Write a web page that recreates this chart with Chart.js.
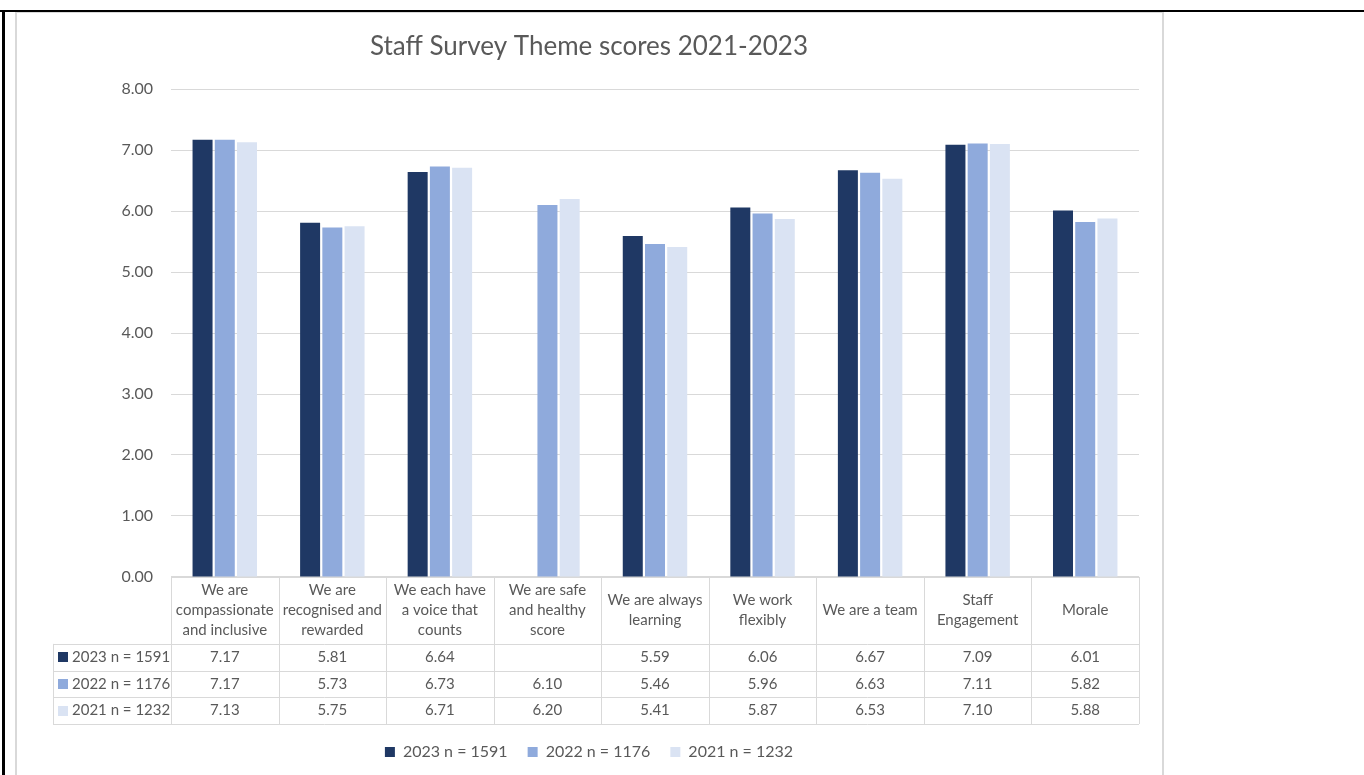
<!DOCTYPE html>
<html>
<head>
<meta charset="utf-8">
<title>Staff Survey Theme scores 2021-2023</title>
<script src="https://cdn.jsdelivr.net/npm/chart.js@4.4.0/dist/chart.umd.min.js"></script>
<style>
    html, body { margin: 0; padding: 0; background: #fff; }
    body { width: 1364px; height: 775px; position: relative; overflow: hidden; }
    .rule-top { position: absolute; left: 0; top: 10px; width: 1364px; height: 2px; background: #000; }
    .rule-left { position: absolute; left: 2px; top: 10px; width: 3px; height: 765px; background: #000; }
    .chart-box { position: absolute; left: 15px; top: 12px; width: 1149px; height: 763px;
                 border: 2px solid #d9d9d9; border-top-width: 1px; border-bottom: none; box-sizing: border-box; }
    .chart-inner { position: relative; width: 1145px; height: 762px; }
</style>
</head>
<body>
<div class="chart-box"><div class="chart-inner"><canvas id="theme-chart"></canvas></div></div>
<div class="rule-top"></div>
<div class="rule-left"></div>
<script>
// 数据
const categories = [
    ['We are', 'compassionate', 'and inclusive'],
    ['We are', 'recognised and', 'rewarded'],
    ['We each have', 'a voice that', 'counts'],
    ['We are safe', 'and healthy', 'score'],
    ['We are always', 'learning'],
    ['We work', 'flexibly'],
    ['We are a team'],
    ['Staff', 'Engagement'],
    ['Morale']
];
const seriesLabels = ['2023 n = 1591', '2022 n = 1176', '2021 n = 1232'];
const scores2023 = [7.17, 5.81, 6.64, null, 5.59, 6.06, 6.67, 7.09, 6.01];
const scores2022 = [7.17, 5.73, 6.73, 6.10, 5.46, 5.96, 6.63, 7.11, 5.82];
const scores2021 = [7.13, 5.75, 6.71, 6.20, 5.41, 5.87, 6.53, 7.10, 5.88];
const seriesColors = ['#1f3864', '#8faadc', '#dae3f3'];

const FONT = 'Lato, "Open Sans", sans-serif';
const TEXT = '#595959';
const LINE = '#d9d9d9';
const HEADER_H = 67;
const ROW_H = 26.7;

// 数据表插件: 在x轴区域画表格
const dataTablePlugin = {
    id: 'dataTable',
    afterDraw(chart) {
        const ctx = chart.ctx;
        const xs = chart.scales.x;
        const area = chart.chartArea;
        const n = categories.length;
        const colW = (xs.right - xs.left) / n;
        const top = area.bottom;
        const headBottom = top + HEADER_H;
        const bottom = headBottom + ROW_H * chart.data.datasets.length;
        const labelLeft = 36;

        ctx.save();
        ctx.strokeStyle = LINE;
        ctx.lineWidth = 1;
        ctx.beginPath();
        // 横线
        ctx.moveTo(xs.left, Math.round(top) + 0.5);
        ctx.lineTo(xs.right, Math.round(top) + 0.5);
        for (let r = 0; r <= chart.data.datasets.length; r++) {
            const y = Math.round(headBottom + r * ROW_H) + 0.5;
            ctx.moveTo(labelLeft, y);
            ctx.lineTo(xs.right, y);
        }
        // 竖线
        for (let i = 0; i <= n; i++) {
            const x = Math.round(xs.left + i * colW) + 0.5;
            ctx.moveTo(x, top);
            ctx.lineTo(x, bottom);
        }
        ctx.moveTo(labelLeft + 0.5, headBottom);
        ctx.lineTo(labelLeft + 0.5, bottom);
        ctx.stroke();

        ctx.fillStyle = TEXT;
        ctx.font = '15px ' + FONT;
        ctx.textAlign = 'center';
        ctx.textBaseline = 'middle';

        // 表头 (类别)
        categories.forEach((lines, i) => {
            const cx = xs.getPixelForValue(i);
            const lh = 20;
            const y0 = top + HEADER_H / 2 - (lines.length - 1) * lh / 2;
            lines.forEach((t, k) => ctx.fillText(t, cx, y0 + k * lh));
        });

        // 数据行
        chart.data.datasets.forEach((ds, r) => {
            const cy = headBottom + r * ROW_H + ROW_H / 2;
            ctx.fillStyle = ds.backgroundColor;
            ctx.fillRect(labelLeft + 5, Math.round(cy - 5), 10, 10);
            ctx.fillStyle = TEXT;
            ctx.textAlign = 'left';
            ctx.fillText(ds.label, labelLeft + 19, cy);
            ctx.textAlign = 'center';
            ds.data.forEach((v, i) => {
                if (v === null) return;
                ctx.fillText(v.toFixed(2), xs.getPixelForValue(i), cy);
            });
        });
        ctx.restore();
    }
};

const ctx = document.getElementById('theme-chart').getContext('2d');
const chart = new Chart(ctx, {
    type: 'bar',
    data: {
        labels: categories,
        datasets: [
            { label: seriesLabels[0], data: scores2023, backgroundColor: seriesColors[0] },
            { label: seriesLabels[1], data: scores2022, backgroundColor: seriesColors[1] },
            { label: seriesLabels[2], data: scores2021, backgroundColor: seriesColors[2] }
        ]
    },
    options: {
        responsive: true,
        maintainAspectRatio: false,
        animation: false,
        datasets: {
            bar: { barPercentage: 0.9, categoryPercentage: 0.62 }
        },
        layout: { padding: { left: 22, right: 23, top: 0, bottom: 5 } },
        plugins: {
            title: {
                display: true,
                text: 'Staff Survey Theme scores 2021-2023',
                color: TEXT,
                font: { family: FONT, size: 26, weight: 'normal' },
                padding: { top: 18, bottom: 27 }
            },
            legend: {
                position: 'bottom',
                labels: {
                    color: TEXT,
                    font: { family: FONT, size: 16 },
                    boxWidth: 10,
                    boxHeight: 10,
                    padding: 20
                }
            },
            tooltip: { enabled: false }
        },
        scales: {
            x: {
                grid: { display: false },
                border: { display: false },
                ticks: { display: false },
                afterFit(scale) { scale.height = HEADER_H + ROW_H * 3; }
            },
            y: {
                min: 0,
                max: 8,
                ticks: {
                    stepSize: 1,
                    color: TEXT,
                    padding: 18,
                    font: { family: FONT, size: 16 },
                    callback: v => v.toFixed(2)
                },
                grid: { color: LINE, drawTicks: false },
                border: { display: false },
                afterFit(scale) { scale.width = 132; }
            }
        }
    },
    plugins: [dataTablePlugin]
});
</script>
</body>
</html>
